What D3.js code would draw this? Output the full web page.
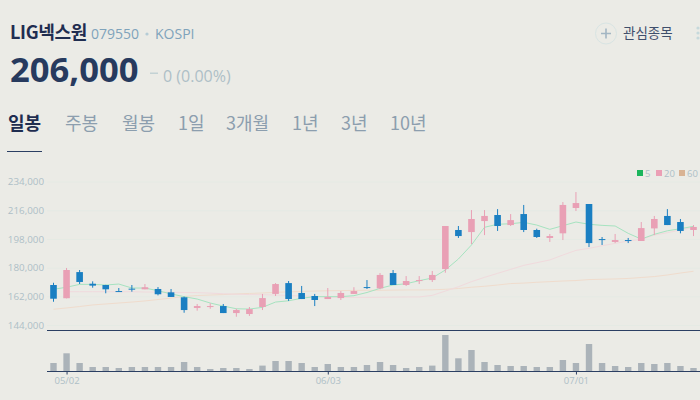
<!DOCTYPE html>
<html>
<head>
<meta charset="utf-8">
<script src="https://cdnjs.cloudflare.com/ajax/libs/d3/7.8.5/d3.min.js"></script>
<style>
    html, body { margin: 0; padding: 0; background: #ebebe6; overflow: hidden; }
    svg { display: block; }
    text { font-family: "Open Sans", "Noto Sans CJK KR", sans-serif; }
    .kr { font-family: "Noto Sans CJK KR", sans-serif; }
</style>
</head>
<body>
<svg id="chart" width="700" height="400"></svg>
<script>
// candles, price in won
const opens = [169400,161100,177500,170200,169400,165600,167100,166700,166900,164800,
    161700,155000,155600,156200,151800,151200,155600,163800,170600,164400,
    162500,160600,161200,163800,168100,167300,176900,169400,171900,172500,
    179400,203900,202600,209500,213300,207000,213900,203900,198900,201800,
    217700,220200,198200,196400,197600,197000,204900,212700,208900,203900];
const closes = [160800,178800,171300,169000,166700,165000,166700,168000,163600,161900,
    153700,156200,156200,151800,153700,154300,161200,170000,160600,160600,
    160000,161900,164400,165600,167500,175700,169400,171900,172500,175700,
    206400,200100,210800,212700,206400,210100,203900,199500,200100,219600,
    220800,195700,197600,197600,197000,205100,210800,207000,203300,205800];
const highs = [170800,180100,178800,171700,169500,167500,169400,170000,168100,166900,
    162100,157500,157900,157500,154500,155600,163800,170600,171900,168800,
    163800,167500,165600,168000,172500,176900,178800,175000,175000,178200,
    206400,206400,216400,216400,217000,213900,219600,204700,201400,221400,
    227700,220200,199500,201400,198900,208900,212700,217000,210800,207000];
const lows = [158900,161000,170000,167700,164200,165000,165200,166700,162900,161900,
    152000,153300,154500,151800,149500,150000,153700,162500,159400,160600,
    156200,160600,160000,163800,166900,166700,169400,168800,170000,171300,
    177100,198900,195100,200700,203300,206400,202600,198900,196400,197600,
    215800,193200,194500,195700,195700,197000,200700,207000,201800,200100];

// moving averages
const ma5 = [166700,168000,169800,169800,169400,170000,167500,167500,165800,163800,
    162100,160600,158100,156200,154500,154300,155400,158700,159500,161100,
    162100,162100,162100,162700,164700,167300,169400,170200,172100,173800,
    178800,185700,194500,205600,207500,207800,208700,207000,204300,206600,
    208900,207500,206800,206400,201800,198200,201200,203400,204700,206200];
const ma20 = [null,165200,165200,165200,165200,165200,165200,165000,165000,164800,
    164700,164600,164300,163900,163600,163400,163300,163100,162800,162500,
    162200,161900,161700,161600,161600,161700,161800,161900,161900,162900,
    165600,168300,171500,174200,176700,179200,181700,183400,185100,188200,
    191100,192400,194000,195500,197000,198000,200700,202200,203900,205600];
const ma60 = [154200,155000,155900,156900,157500,158100,158700,159400,160300,161200,
    162200,162800,163100,163400,163800,164100,164400,164800,165100,165400,
    165600,165800,165900,166000,166100,166100,166200,166300,166300,166400,
    166700,167200,168000,168600,169400,170300,170600,171100,171500,171900,
    172200,172800,173000,173200,173500,174100,174700,175700,176900,178000];

// volume, thousand shares
const volumes = [83,180,83,43,43,33,43,43,43,43,
    93,43,23,33,33,23,57,103,103,83,
    43,73,43,43,63,93,63,33,43,57,
    363,130,213,93,63,53,53,43,43,113,
    83,273,83,53,43,83,73,83,53,33];

const priceTicks = [144000,162000,180000,198000,216000,234000];
const dateTicks = [1,21,40];
const dateLabels = ["05/02","06/03","07/01"];

const tabs = ["일봉","주봉","월봉","1일","3개월","1년","3년","10년"];
const tabX = [8,65,122,178,226,292,341,390];
const legendNames = ["5","20","60"];
const legendX = [637,656,679];

const navy = "#2b3f63";
const upColor = "#e9a0b5";
const downColor = "#1a7fc2";
const maColors = ["#a6e3c0","#f1dadd","#f0dccd"];
const legendColors = ["#1bb55c","#eb9fb5","#d9b394"];
const muted = "#aebfc7";

const svg = d3.select("#chart");

const x = d3.scaleLinear().domain([0, 49]).range([53.5, 693.5]);
const y = d3.scaleLinear().domain([144000, 234000]).range([325.5, 182]);
const yVol = d3.scaleLinear().domain([0, 410]).range([371.3, 330.3]);

// header
svg.append("text").attr("x", 10).attr("y", 39).attr("font-size", 18).attr("font-weight", 700)
    .attr("fill", "#1f2d50").attr("letter-spacing", -0.3).attr("class", "kr").text("LIG넥스원");
svg.append("text").attr("x", 91).attr("y", 39).attr("font-size", 14).attr("fill", "#7fa3bb")
    .text("079550");
svg.append("circle").attr("cx", 147).attr("cy", 34).attr("r", 1.6).attr("fill", "#b5ccd6");
svg.append("text").attr("x", 155).attr("y", 39).attr("font-size", 14).attr("fill", "#7fa3bb")
    .text("KOSPI");
svg.append("text").attr("x", 10).attr("y", 82).attr("font-size", 34.6).attr("font-weight", 700)
    .attr("fill", "#273a5e").text("206,000");
svg.append("rect").attr("x", 150).attr("y", 72.5).attr("width", 8).attr("height", 1.5).attr("fill", "#c3d2d4");
svg.append("text").attr("x", 163).attr("y", 82).attr("font-size", 16).attr("fill", muted)
    .text("0 (0.00%)");

// tabs
svg.selectAll(".tab").data(tabs).join("text")
    .attr("class", "tab kr")
    .attr("x", (d, i) => tabX[i])
    .attr("y", 130)
    .attr("font-size", 18)
    .attr("font-weight", (d, i) => i == 0 ? 700 : 400)
    .attr("fill", (d, i) => i == 0 ? "#1f2d50" : "#8c9eae")
    .text(d => d);
svg.append("line").attr("x1", 7).attr("x2", 42).attr("y1", 151.5).attr("y2", 151.5)
    .attr("stroke", navy).attr("stroke-width", 1);

// watchlist button
svg.append("circle").attr("cx", 606).attr("cy", 33.5).attr("r", 10.5)
    .attr("fill", "none").attr("stroke", "#d8e4e3");
svg.append("path").attr("d", "M601,33.5H611M606,28.5V38.5").attr("stroke", "#a3b6c3").attr("stroke-width", 1.6);
svg.append("text").attr("x", 623).attr("y", 38).attr("font-size", 13.5).attr("fill", "#3f4f6c")
    .attr("class", "kr").text("관심종목");
svg.selectAll(".dot").data([28, 33, 38]).join("circle")
    .attr("class", "dot").attr("cx", 698).attr("cy", d => d).attr("r", 1.6).attr("fill", "#c6d9dc");

// legend
svg.selectAll(".legendBox").data(legendNames).join("rect")
    .attr("class", "legendBox")
    .attr("x", (d, i) => legendX[i]).attr("y", 170)
    .attr("width", 6).attr("height", 6)
    .attr("fill", (d, i) => legendColors[i]);
svg.selectAll(".legendText").data(legendNames).join("text")
    .attr("class", "legendText")
    .attr("x", (d, i) => legendX[i] + 8).attr("y", 176.5)
    .attr("font-size", 9.5).attr("fill", muted)
    .text(d => d);

// grid
svg.append("g").selectAll("line").data(priceTicks).join("line")
    .attr("x1", 47).attr("x2", 700)
    .attr("y1", d => y(d)).attr("y2", d => y(d))
    .attr("stroke", "#e5eae4");

// y axis
const yAxis = svg.append("g").attr("transform", "translate(44,0)")
    .call(d3.axisLeft(y).tickValues(priceTicks).tickFormat(d3.format(",")).tickSize(0).tickPadding(0));
yAxis.select(".domain").remove();
yAxis.selectAll("text").attr("font-size", 9.8).attr("fill", muted).attr("dy", "0.28em")
    .style("font-family", '"Open Sans", sans-serif');

// moving average lines
const maLine = d3.line()
    .defined(d => d != null)
    .x((d, i) => x(i))
    .y(d => y(d));
[ma60, ma20, ma5].forEach((s, i) => {
    svg.append("path").attr("d", maLine(s)).attr("fill", "none")
        .attr("stroke", maColors[2 - i]).attr("stroke-width", 1);
});

// candles
const candle = svg.append("g").selectAll("g").data(opens).join("g");
const candleColor = (d, i) => closes[i] >= d ? upColor : downColor;
candle.append("line")
    .attr("x1", (d, i) => x(i)).attr("x2", (d, i) => x(i))
    .attr("y1", (d, i) => y(highs[i])).attr("y2", (d, i) => y(lows[i]))
    .attr("stroke", candleColor).attr("stroke-width", 1);
candle.append("rect")
    .attr("x", (d, i) => x(i) - 3.3)
    .attr("width", 6.6)
    .attr("y", (d, i) => y(Math.max(d, closes[i])))
    .attr("height", (d, i) => Math.max(1, Math.abs(y(d) - y(closes[i]))))
    .attr("fill", candleColor);

// volume bars
svg.append("g").selectAll("rect").data(volumes).join("rect")
    .attr("x", (d, i) => x(i) - 3.2)
    .attr("width", 6.4)
    .attr("y", d => yVol(d))
    .attr("height", d => yVol(0) - yVol(d))
    .attr("fill", "#abb3b9");

// panel lines
svg.selectAll(".panelLine").data([330.5, 371.5]).join("line")
    .attr("class", "panelLine")
    .attr("x1", 47).attr("x2", 700).attr("y1", d => d).attr("y2", d => d)
    .attr("stroke", navy).attr("stroke-width", 1);

// x axis
const xAxis = svg.append("g").attr("transform", "translate(0,371.5)")
    .call(d3.axisBottom(x).tickValues(dateTicks).tickFormat((d, i) => dateLabels[i]).tickSize(3).tickPadding(3));
xAxis.select(".domain").remove();
xAxis.selectAll("line").attr("stroke", navy);
xAxis.selectAll("text").attr("font-size", 9.5).attr("fill", muted)
    .style("font-family", '"Open Sans", sans-serif');
</script>
</body>
</html>
